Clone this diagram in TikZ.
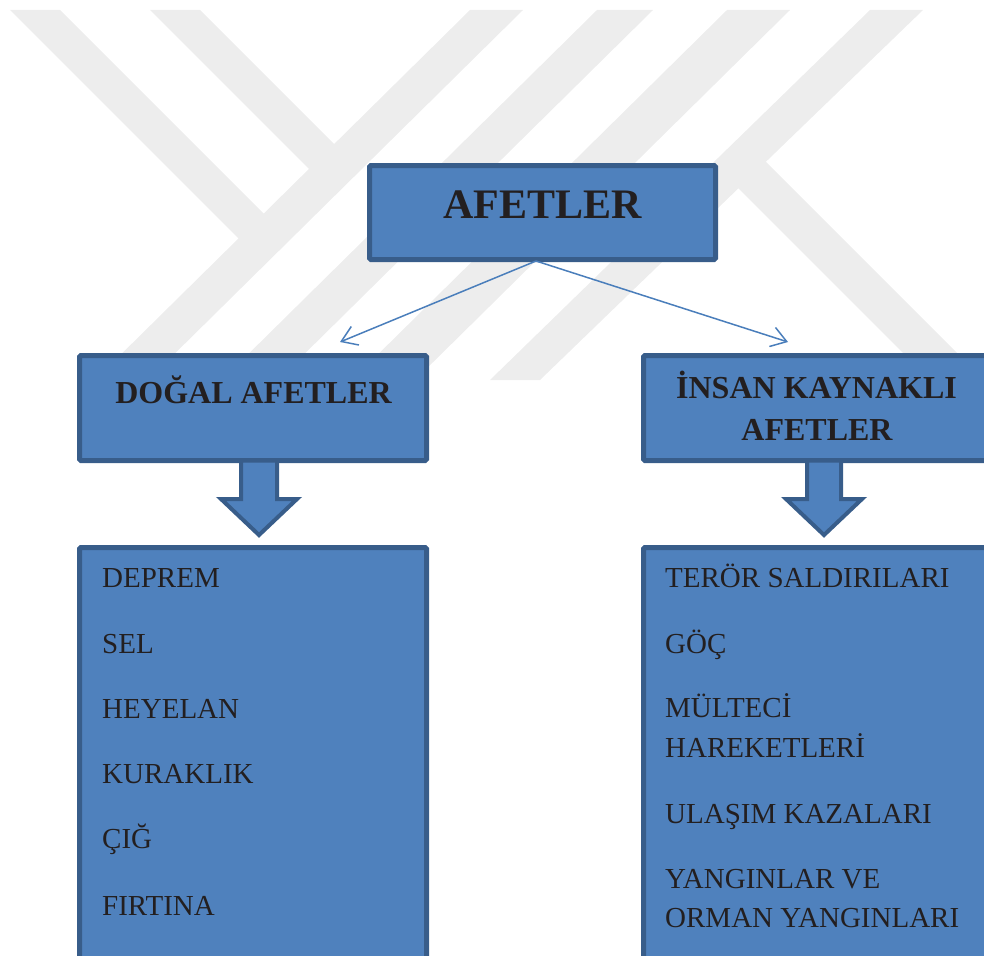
\documentclass[tikz,border=0pt]{standalone}
\usepackage{fontspec}
\setmainfont{Liberation Serif}
\usetikzlibrary{arrows.meta}
\definecolor{boxfill}{RGB}{79,129,189}
\definecolor{boxline}{RGB}{56,93,138}
\definecolor{conncol}{RGB}{74,126,187}
\definecolor{wmgray}{RGB}{237,237,237}
\definecolor{txt}{RGB}{35,31,32}
\begin{document}
\begin{tikzpicture}[x=1pt,y=-1pt,
 box/.style={draw=boxline, fill=boxfill, line width=5pt, rounded corners=1.5pt, inner sep=0pt, anchor=center},
 title/.style={font=\fontsize{42}{50}\selectfont\bfseries, text=txt, inner sep=0pt, anchor=base},
 head/.style={font=\fontsize{32}{38}\selectfont\bfseries, text=txt, inner sep=0pt, anchor=base},
 item/.style={font=\fontsize{29}{35}\selectfont, text=txt, inner sep=0pt, anchor=base west},
 conn/.style={draw=conncol, line width=1.5pt, -{Straight Barb[length=15pt,width=20pt]}},
 blockarr/.style={fill=boxfill, draw=boxline, line width=4pt, line join=miter},
 wm/.style={fill=wmgray}]
\useasboundingbox (0,0) rectangle (984,955);
\clip (0,0) rectangle (984,955);
% watermark
\fill[wm] (10,10) -- (60,10) -- (275,225) -- (250,250) -- cycle;
\fill[wm] (150,10) -- (200,10) -- (345,155) -- (320,180) -- cycle;
\fill[wm] (470,10) -- (523,10) -- (148,380) -- (95,380) -- cycle;
\fill[wm] (597,10) -- (653,10) -- (278,380) -- (222,380) -- cycle;
\fill[wm] (727,10) -- (790,10) -- (415,380) -- (352,380) -- cycle;
\fill[wm] (870,10) -- (923,10) -- (540,380) -- (490,380) -- cycle;
\fill[wm] (760,156) -- (957,353) -- (903,353) -- (733,183) -- cycle;
% boxes
\node[box, minimum width=346pt, minimum height=94pt] (afet) at (542.5,212.5) {};
\node[box, minimum width=347pt, minimum height=105pt] (dogal) at (253,408) {};
\node[box, minimum width=345pt, minimum height=105pt] (insan) at (816,408) {};
\node[box, minimum width=347pt, minimum height=440pt] (dogalL) at (253,767.5) {};
\node[box, minimum width=345pt, minimum height=440pt] (insanL) at (816,767.5) {};
% block arrows
\filldraw[blockarr] (241,460.5) -- (241,499) -- (221,499) -- (259,535) -- (297,499) -- (277,499) -- (277,460.5) -- cycle;
\filldraw[blockarr] (807,460.5) -- (807,499) -- (786,499) -- (824,535) -- (862,499) -- (841,499) -- (841,460.5) -- cycle;
% connectors
\coordinate (src) at (536,261);
\coordinate (tipL) at (340,342);
\coordinate (tipR) at (788,342);
\draw[conn] (src) -- (tipL);
\draw[conn] (src) -- (tipR);
% texts
\node[title] (afetT) at (542.5,218) {AFETLER};
\node[head] (dogalT) at (253.5,403) {DOĞAL AFETLER};
\node[head] (insanT1) at (816.5,398) {İNSAN KAYNAKLI};
\node[head] (insanT2) at (817,440) {AFETLER};
\node[item] (l1) at (102,587) {DEPREM};
\node[item] (l2) at (102,653) {SEL};
\node[item] (l3) at (102,718) {HEYELAN};
\node[item] (l4) at (102,783) {KURAKLIK};
\node[item] (l5) at (102,848) {ÇIĞ};
\node[item] (l6) at (102,915) {FIRTINA};
\node[item] (r1) at (665,587) {TERÖR SALDIRILARI};
\node[item] (r2) at (665,653) {GÖÇ};
\node[item] (r3a) at (665,717) {MÜLTECİ};
\node[item] (r3b) at (665,757) {HAREKETLERİ};
\node[item] (r4) at (665,823) {ULAŞIM KAZALARI};
\node[item] (r5a) at (665,888) {YANGINLAR VE};
\node[item] (r5b) at (665,927) {ORMAN YANGINLARI};
\end{tikzpicture}
\end{document}
